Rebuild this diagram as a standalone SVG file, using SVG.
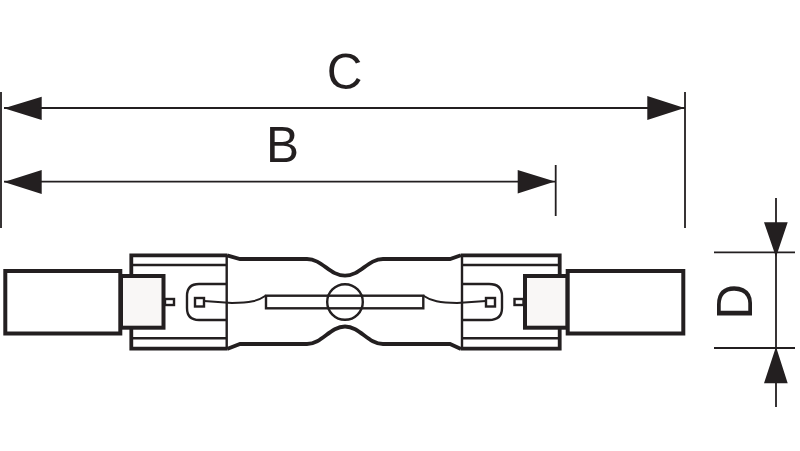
<svg xmlns="http://www.w3.org/2000/svg" width="800" height="451" viewBox="0 0 800 451">
<style>
text{font-family:"Liberation Sans",Arial,sans-serif;fill:#231f20;font-size:49.5px;text-anchor:middle}
.thin{fill:none;stroke:#231f20;stroke-width:1.8}
.wire{fill:none;stroke:#231f20;stroke-width:2}
.mid{fill:none;stroke:#231f20;stroke-width:2.4}
.thick{fill:none;stroke:#231f20;stroke-width:3.8}
.heavy{fill:#fff;stroke:#231f20;stroke-width:4}
.tint{fill:#f9f7f6;stroke:#231f20;stroke-width:4}
.head{fill:#231f20}
</style>
<rect width="800" height="451" fill="#fff"/>
<g id="connectors">
<path class="thin" d="M1 92V228M685 92V228M555.7 165V216M714 252.3H795M714 348H795"/>
<path class="thin" d="M4 108H685M4 181.7H555M776 198V407"/>
<path class="head" d="M4 108.3L41.7 96.7V120ZM684.5 108L647.3 96V120ZM4 182L41.7 170V194ZM555 181.5L517.7 170V193.5ZM776 257L764 222.3H787.7ZM776 346.7L764 383.3H787.7Z"/>
</g>
<g id="labels">
<text x="344.5" y="88.5">C</text>
<text x="282.5" y="161.7">B</text>
<text transform="translate(752.3 301.5) rotate(-90)">D</text>
</g>
<g id="lamp">
<path class="thick" d="M227 255.3H131.3V348.7H227"/>
<path class="thick" d="M461 255.3H559.7V348.7H461"/>
<path class="mid" d="M132 265H227M132 338.3H227M226.7 255V349M462 255V349M462 265H559M462 338.3H559"/>
<path class="thick" d="M227 255.3L240 259H307C322 259 330 275.7 345 275.7C360 275.7 368 259 383 259H450L461 255.3"/>
<path class="thick" d="M227 349L240 344H307C322 344 330 326.5 345 326.5C360 326.5 368 344 383 344H450L461 349"/>
<path class="mid" d="M227 284H199Q187 284 187 296V308Q187 320 199 320H227"/>
<path class="mid" d="M462 284H489Q502 284 502 296V308Q502 320 489 320H462"/>
<rect class="mid" x="195" y="298" width="9" height="8.5"/>
<rect class="mid" x="486" y="298" width="9" height="8.5"/>
<path class="wire" d="M204 301L232 303C250 303 258 301 266 295.5M486 301L457 303C440 303 431 301 423 295.5"/>
<rect class="mid" x="266" y="295.7" width="157.3" height="12.6"/>
<circle class="mid" cx="345" cy="302" r="17.8"/>
<rect class="mid" x="165" y="299" width="9" height="6"/>
<rect class="mid" x="514.5" y="299" width="9" height="6"/>
</g>
<g id="left-cap">
<rect class="tint" x="121" y="276" width="42.5" height="51.7"/>
<rect class="heavy" x="5.3" y="271" width="115" height="62.5"/>
</g>
<g id="right-cap">
<rect class="tint" x="525" y="276" width="42.5" height="51.7"/>
<rect class="heavy" x="567.7" y="271" width="115.6" height="62.5"/>
</g>
</svg>
